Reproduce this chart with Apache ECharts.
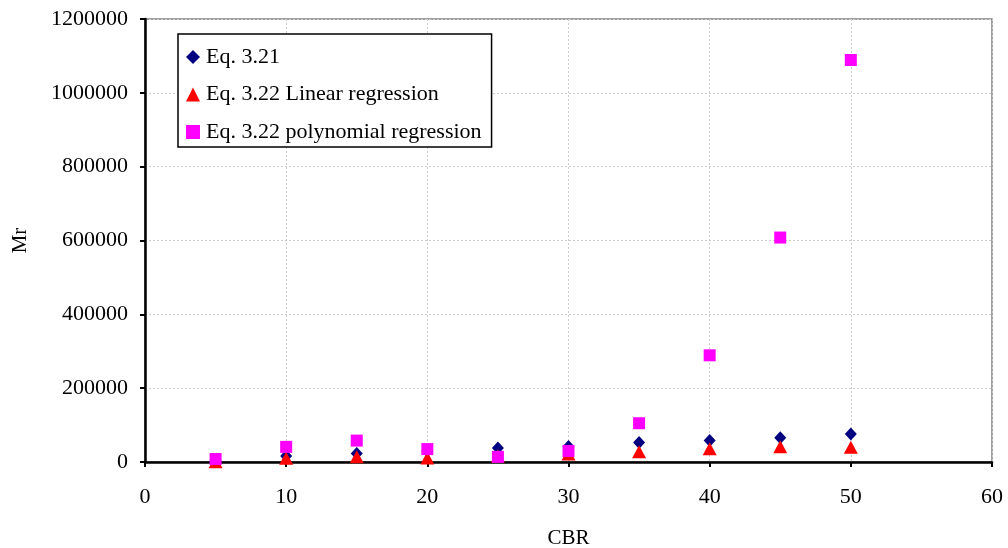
<!DOCTYPE html>
<html><head><meta charset="utf-8">
<script src="https://cdn.jsdelivr.net/npm/echarts@6/dist/echarts.min.js"></script>
<style>html,body{margin:0;padding:0;background:#fff}#c{width:1008px;height:548px}</style>
</head><body><div id="c"></div>
<script>
const cbr = [5, 10, 15, 20, 25, 30, 35, 40, 45, 50];
const eq321 = [5000, 16000, 23000, 30000, 38000, 42000, 53000, 58000, 66000, 76000];
const eq322Linear = [1000, 10000, 14000, 11000, 16000, 22000, 28000, 36000, 41000, 40000];
const eq322Poly = [8000, 41000, 58000, 35000, 14000, 30000, 105000, 289000, 608000, 1089000];
const seriesNames = ['Eq. 3.21', 'Eq. 3.22 Linear regression', 'Eq. 3.22 polynomial regression'];
const xTicks = [0, 10, 20, 30, 40, 50, 60];
const yTicks = [0, 200000, 400000, 600000, 800000, 1000000, 1200000];

const font = '"Liberation Serif", "Times New Roman", serif';
const pair = (ys) => cbr.map((x, i) => [x, ys[i]]);

const chart = echarts.init(document.getElementById('c'), null, {renderer: 'canvas'});
chart.setOption({
  animation: false,
  backgroundColor: '#fff',
  textStyle: {fontFamily: font, color: '#000'},
  grid: {left: 145, right: 16, top: 19, bottom: 86, show: true, borderColor: '#808080', borderWidth: 1.5,
         backgroundColor: '#fff', containLabel: false, outerBoundsMode: 'none'},
  legend: {
    left: 178, top: 34, orient: 'vertical',
    padding: [12, 10, 4, 8],
    itemGap: 15.5,
    itemWidth: 14, itemHeight: 14,
    borderColor: '#000', borderWidth: 1.5,
    backgroundColor: '#fff',
    textStyle: {fontFamily: font, fontSize: 22, color: '#000', padding: [0, 0, 0, 1]},
    data: seriesNames
  },
  xAxis: {
    type: 'value', min: xTicks[0], max: xTicks[xTicks.length - 1], interval: 10,
    name: 'CBR', nameLocation: 'middle', nameGap: 66,
    nameTextStyle: {fontFamily: font, fontSize: 21, color: '#000'},
    axisLine: {show: true, onZero: false, lineStyle: {color: '#000', width: 2.5}},
    axisTick: {show: true, inside: false, length: 5, lineStyle: {color: '#000', width: 2}},
    axisLabel: {fontFamily: font, fontSize: 22, color: '#000', margin: 24},
    splitLine: {show: true, lineStyle: {color: '#cccccc', type: [2, 2], width: 1}}
  },
  yAxis: {
    type: 'value', min: yTicks[0], max: yTicks[yTicks.length - 1], interval: 200000,
    name: 'Mr', nameLocation: 'middle', nameGap: 114, nameRotate: 90,
    nameTextStyle: {fontFamily: font, fontSize: 21, color: '#000'},
    axisLine: {show: true, onZero: false, lineStyle: {color: '#000', width: 2.5}},
    axisTick: {show: true, inside: false, length: 5, lineStyle: {color: '#000', width: 2}},
    axisLabel: {fontFamily: font, fontSize: 22, color: '#000', margin: 17,
                formatter: (v) => String(v)},
    splitLine: {show: true, lineStyle: {color: '#cccccc', type: [2, 2], width: 1}}
  },
  series: [
    {name: seriesNames[0], type: 'scatter', symbol: 'diamond', symbolSize: [12, 13],
     itemStyle: {color: '#000080', opacity: 1}, data: pair(eq321)},
    {name: seriesNames[1], type: 'scatter', symbol: 'triangle', symbolSize: [14, 13],
     itemStyle: {color: '#ff0000', opacity: 1}, data: pair(eq322Linear)},
    {name: seriesNames[2], type: 'scatter', symbol: 'rect', symbolSize: 12,
     itemStyle: {color: '#ff00ff', opacity: 1}, data: pair(eq322Poly)}
  ]
});
</script></body></html>
